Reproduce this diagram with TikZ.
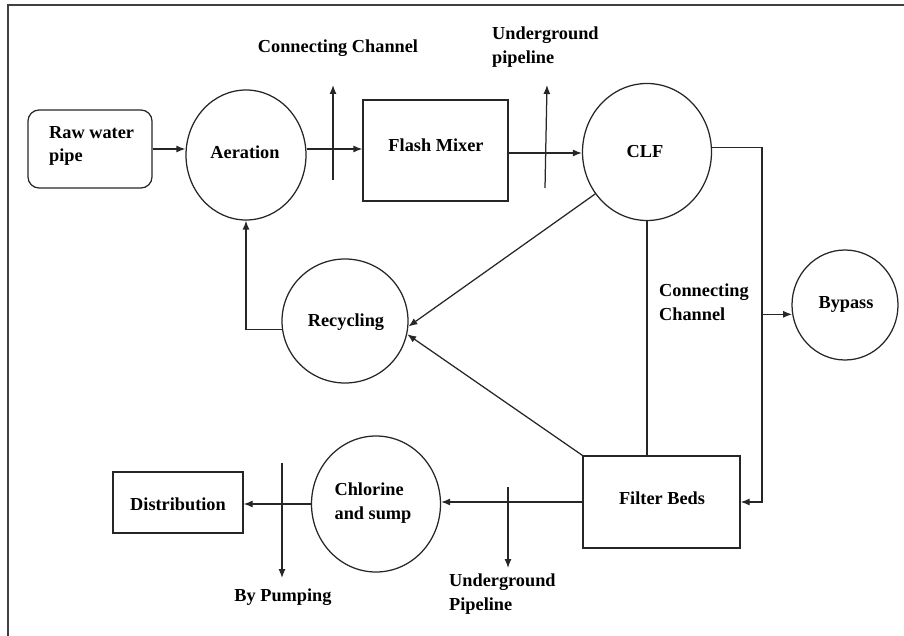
\documentclass[tikz,border=0pt]{standalone}
\usepackage{fontspec}
\setmainfont{Liberation Serif}
\usetikzlibrary{shapes.geometric,arrows.meta}
\begin{document}
\begin{tikzpicture}[x=1pt,y=-1pt,
  every node/.style={font=\fontsize{18.3}{23.5}\selectfont\bfseries, inner sep=0pt},
  ln/.style={line width=1.25pt, draw=black!85},
  arr/.style={ln, -{Latex[length=9pt,width=7pt]}},
  circ/.style={ellipse, ln, align=center},
  boxx/.style={rectangle, ln, align=center},
  lbl/.style={align=left}
]
\useasboundingbox (0,0) rectangle (904,636);
\draw[line width=2pt, draw=black!75] (8,640) -- (8,5) -- (910,5);

% nodes
\node[boxx, rounded corners=11pt, minimum width=124pt, minimum height=78pt] (raw) at (90,149) {};
\node[lbl, anchor=west] at (49,146) {Raw water\\pipe};
\node[circ, minimum width=120pt, minimum height=130pt] (aer) at (246,155) {};
\node at (245,152) {Aeration};
\node[boxx, minimum width=145pt, minimum height=101pt] (flash) at (435.5,150.5) {};
\node at (436,145) {Flash Mixer};
\node[circ, minimum width=129pt, minimum height=137pt] (clf) at (647,152) {};
\node at (645,152) {CLF};
\node[circ, minimum width=106pt, minimum height=110pt] (bypass) at (845,305) {};
\node at (846,304) {Bypass};
\node[circ, minimum width=126pt, minimum height=124pt] (rec) at (345,321) {};
\node at (346,322) {Recycling};
\node[boxx, minimum width=157pt, minimum height=92pt] (filter) at (661.5,502) {};
\node at (662,498) {Filter Beds};
\node[circ, minimum width=129pt, minimum height=136pt] (chl) at (376,504) {};
\node[lbl] at (373,503) {Chlorine\\and sump};
\node[boxx, minimum width=130pt, minimum height=61pt] (dist) at (178,502.5) {};
\node at (178,504) {Distribution};

% labels
\node (l1) at (338,48) {Connecting Channel};
\node[lbl, anchor=west] (l2) at (492,47) {Underground\\pipeline};
\node[lbl, anchor=west] (l3) at (659,302) {Connecting\\Channel};
\node[lbl, anchor=west] (l4) at (449,594) {Underground\\Pipeline};
\node (l5) at (283,597) {By Pumping};

% free ends
\coordinate (c1b) at (333,180); \coordinate (c1t) at (333,85);
\coordinate (c2b) at (545,188); \coordinate (c2t) at (547,85);
\coordinate (c3t) at (508,487); \coordinate (c3b) at (508,568);
\coordinate (c4t) at (282,463); \coordinate (c4b) at (282,578);
\coordinate (rx) at (762,0);

% connectors
\draw[arr] (raw.east) -- (raw.east -| aer.west);
\draw[arr] (aer.east |- 0,149) -- (flash.west |- 0,149);
\draw[arr] (c1b) -- (c1t);
\draw[arr] (flash.east |- 0,153) -- (clf.west |- 0,153);
\draw[arr] (c2b) -- (c2t);
\draw[arr] (clf.4) -- (clf.4 -| rx) -- (rx |- filter.east) -- (filter.east);
\draw[arr] (rx |- bypass.190) -- (bypass.190);
\draw[ln] (clf.south) -- (filter.north -| clf.south);
\draw[arr] (clf.219) -- (rec.-5);
\draw[arr] (filter.north west) -- (rec.-12);
\draw[arr] (rec.188) -- (rec.188 -| aer.south) -- (aer.south);
\draw[arr] (filter.west) -- (filter.west -| chl.east);
\draw[arr] (c3t) -- (c3b);
\draw[arr] (chl.west) -- (chl.west -| dist.east);
\draw[arr] (c4t) -- (c4b);
\end{tikzpicture}
\end{document}
